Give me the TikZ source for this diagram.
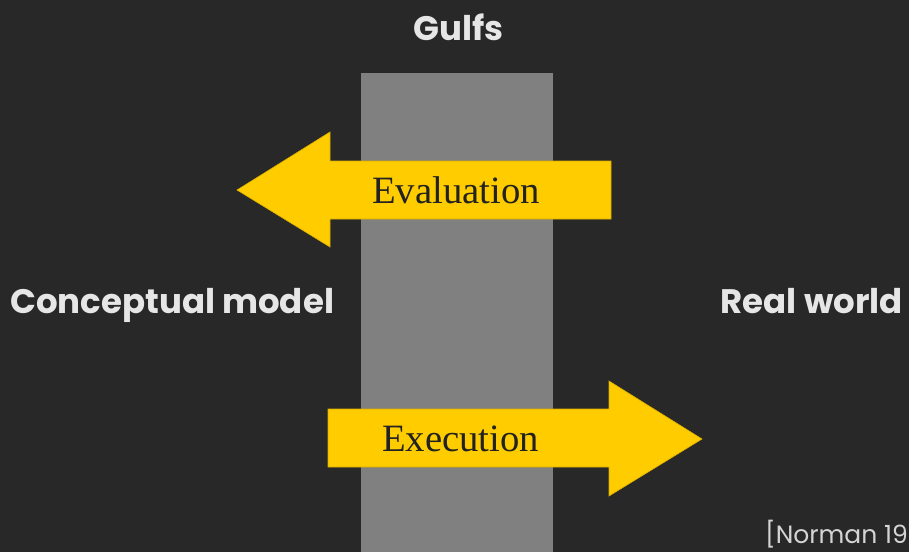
\documentclass[tikz,border=0pt]{standalone}
\usepackage{fontspec}
\setmainfont{Liberation Serif}
\newfontfamily\headfont{Poppins}
\definecolor{bgc}{HTML}{282828}
\definecolor{gulfgray}{HTML}{808080}
\definecolor{arrowyellow}{HTML}{FFCC00}
\definecolor{arrowedge}{HTML}{D9AD00}
\definecolor{lighttext}{HTML}{E6E6E6}
\definecolor{darktext}{HTML}{222222}
\tikzset{
  bigarrow/.style={fill=arrowyellow, draw=arrowedge, line width=0.6pt},
  headlabel/.style={text=lighttext, font=\headfont\bfseries\fontsize{34}{38}\selectfont, inner sep=0pt, anchor=base west},
  arrowlabel/.style={text=darktext, font=\fontsize{38.7}{42}\selectfont, inner sep=0pt, anchor=base west},
  citelabel/.style={text=lighttext!92!black, font=\headfont\fontsize{25}{28}\selectfont, inner sep=0pt, anchor=base west}
}
\begin{document}
\begin{tikzpicture}[x=1pt,y=-1pt]
\useasboundingbox (0,0) rectangle (909,552);
\fill[bgc] (0,0) rectangle (909,552);
\clip (0,0) rectangle (909,552);
\fill[gulfgray] (361,73) rectangle (553,552);
% Evaluation arrow (left)
\draw[bigarrow] (611,161) -- (330,161) -- (330,132) -- (237,190) -- (330,247) -- (330,219) -- (611,219) -- cycle;
% Execution arrow (right)
\draw[bigarrow] (328,409) -- (609,409) -- (609,381) -- (702,439) -- (609,496) -- (609,467) -- (328,467) -- cycle;
\node[arrowlabel] (eval) at (372,203) {Evaluation};
\node[arrowlabel] (exec) at (382,451) {Execution};
\node[headlabel] (gulfs) at (413,40) {Gulfs};
\node[headlabel] (concept) at (10,313) {Conceptual model};
\node[headlabel, anchor=base east] (real) at (903,313) {Real world};
\node[citelabel] (cite) at (765,543) {[Norman 19};
\end{tikzpicture}
\end{document}
